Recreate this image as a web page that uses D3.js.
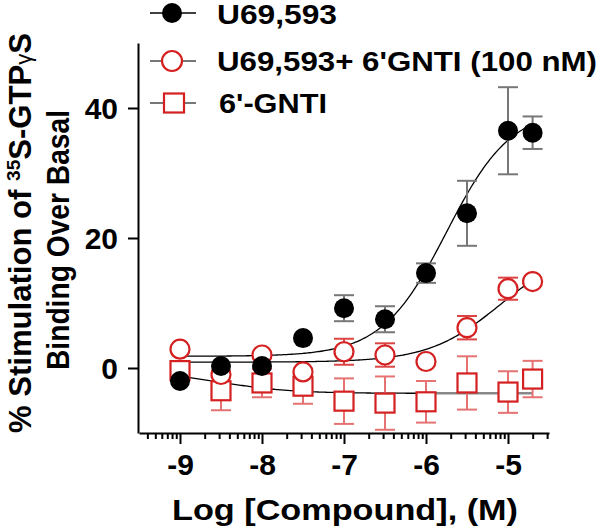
<!DOCTYPE html>
<html>
<head>
<meta charset="utf-8">
<script src="https://cdn.jsdelivr.net/npm/d3@7"></script>
<style>
  html, body { margin: 0; padding: 0; background: #fff; }
  svg { display: block; }
  text { font-family: "Liberation Sans", Arial, sans-serif; font-weight: bold; fill: #000; }
</style>
</head>
<body>
<svg id="chart" width="600" height="530"></svg>
<script>
// ---- data ----
const logConc = [-9, -8.5, -8, -7.5, -7, -6.5, -6, -5.5, -5, -4.7];
const u69Mean = [-2.0, 0.3, 0.3, 4.6, 9.2, 7.5, 14.6, 23.8, 36.5, 36.2];
const u69Err  = [0, 0, 0, 0, 2.0, 2.0, 1.5, 5.0, 6.7, 2.5];
const comboMean = [2.9, -1.0, 2.0, -0.6, 2.5, 2.0, 1.0, 6.2, 12.2, 13.3];
const comboErr  = [0, 0, 0, 0, 2.0, 1.8, 0, 1.8, 1.7, 0];
const gntiMean = [-0.4, -3.5, -2.3, -2.8, -5.1, -5.4, -5.2, -2.3, -3.7, -1.7];
const gntiErr  = [0, 3.0, 2.2, 2.7, 3.5, 4.1, 3.2, 4.1, 3.2, 2.8];
// sigmoidal fit parameters [bottom, top, logEC50, hill]
const u69Fit   = [1.8, 40, -5.75, 1.1];
const comboFit = [0.9, 18.5, -5.1, 1.0];
const gntiFit  = [-0.5, -3.9, -8.5, 1.0];
const xTicks = [-9, -8, -7, -6, -5];
const yTicks = [0, 20, 40];
const legendLabels = ["U69,593", "U69,593+ 6'GNTI (100 nM)", "6'-GNTI"];

// ---- layout ----
const svg = d3.select("#chart");
const x = d3.scaleLinear().domain([-9.5, -4.5]).range([139, 549]);
const y = d3.scaleLinear().domain([-10, 50]).range([433, 43]);
const RED = "#d42020";

function sig(p, v) { return p[0] + (p[1] - p[0]) / (1 + Math.pow(10, (p[2] - v) * p[3])); }
function curve(p, x0, x1) {
  const pts = d3.range(x0, x1 + 1e-9, 0.02).map(v => [v, sig(p, v)]);
  return d3.line().x(d => x(d[0])).y(d => y(d[1]))(pts);
}

// ---- axes ----
const minor = [];
for (let dec = -10; dec <= -5; dec++) {
  for (let k = 2; k <= 9; k++) {
    const v = dec + Math.log10(k);
    if (v >= -9.5 && v <= -4.5) minor.push(v);
  }
}
const gx = svg.append("g").attr("transform", "translate(0,433)");
gx.append("g").call(d3.axisBottom(x).tickValues(minor).tickSize(6).tickSizeOuter(0).tickFormat(""))
  .call(g => g.select(".domain").remove());
gx.append("g").call(d3.axisBottom(x).tickValues(xTicks).tickSize(11).tickSizeOuter(0)
  .tickFormat(d => d3.format("d")(d).replace("−", "-")));
gx.selectAll("line").attr("stroke", "#000").attr("stroke-width", 2);
gx.selectAll(".domain").attr("stroke", "#000").attr("stroke-width", 2);
gx.selectAll("text").attr("font-size", 30).attr("y", 42).attr("dy", 0)
  .style("font-family", '"Liberation Sans", Arial, sans-serif').style("font-weight", "bold");

const gy = svg.append("g").attr("transform", "translate(138,0)");
gy.call(d3.axisLeft(y).tickValues(yTicks).tickSize(10).tickPadding(10).tickSizeOuter(0));
gy.selectAll("line").attr("stroke", "#000").attr("stroke-width", 2);
gy.selectAll(".domain").attr("stroke", "#000").attr("stroke-width", 2);
gy.selectAll("text").attr("font-size", 30).attr("dy", "0.34em")
  .style("font-family", '"Liberation Sans", Arial, sans-serif').style("font-weight", "bold");

// ---- axis titles ----
svg.append("text").attr("x", 345).attr("y", 520).attr("text-anchor", "middle")
  .attr("font-size", 30).attr("textLength", 346).attr("lengthAdjust", "spacingAndGlyphs")
  .text("Log [Compound], (M)");

const t1 = svg.append("text").attr("transform", "translate(31,233) rotate(-90)")
  .attr("text-anchor", "middle").attr("font-size", 31)
  .attr("textLength", 400).attr("lengthAdjust", "spacingAndGlyphs");
t1.append("tspan").text("% Stimulation of ");
t1.append("tspan").attr("font-size", 19).attr("dy", -11).text("35");
t1.append("tspan").attr("dy", 11).text("S-GTP");
t1.append("tspan").attr("font-size", 22).style("font-weight", "normal").text("γ");
t1.append("tspan").text("S");

svg.append("text").attr("transform", "translate(69,240) rotate(-90)")
  .attr("text-anchor", "middle").attr("font-size", 31)
  .attr("textLength", 260).attr("lengthAdjust", "spacingAndGlyphs")
  .text("Binding Over Basal");

// ---- fit curves ----
svg.append("path").attr("d", curve(gntiFit, -6, -4.7)).attr("fill", "none")
  .attr("stroke", "#888").attr("stroke-width", 2.5);
svg.append("path").attr("d", curve(gntiFit, -9, -6)).attr("fill", "none")
  .attr("stroke", "#000").attr("stroke-width", 1.3);
svg.append("path").attr("d", curve(comboFit, -9, -4.7)).attr("fill", "none")
  .attr("stroke", "#000").attr("stroke-width", 1.3);
svg.append("path").attr("d", curve(u69Fit, -9, -4.7)).attr("fill", "none")
  .attr("stroke", "#000").attr("stroke-width", 1.3);

// ---- error bars ----
function errBars(means, errs, color) {
  const g = svg.append("g").attr("stroke", color).attr("stroke-width", 2).attr("fill", "none");
  logConc.forEach((c, i) => {
    if (!errs[i]) return;
    const cx = x(c), y0 = y(means[i] - errs[i]), y1 = y(means[i] + errs[i]);
    g.append("line").attr("x1", cx).attr("x2", cx).attr("y1", y0).attr("y2", y1);
    g.append("line").attr("x1", cx - 10).attr("x2", cx + 10).attr("y1", y0).attr("y2", y0);
    g.append("line").attr("x1", cx - 10).attr("x2", cx + 10).attr("y1", y1).attr("y2", y1);
  });
}
errBars(gntiMean, gntiErr, "#e57373");
errBars(comboMean, comboErr, "#dd4444");
errBars(u69Mean, u69Err, "#777");

// ---- markers ----
svg.append("g").selectAll("rect").data(logConc).join("rect")
  .attr("x", d => x(d) - 9.5).attr("y", (d, i) => y(gntiMean[i]) - 9.5)
  .attr("width", 19).attr("height", 19)
  .attr("fill", "#fff").attr("stroke", RED).attr("stroke-width", 2.2);
svg.append("g").selectAll("circle").data(logConc).join("circle")
  .attr("cx", d => x(d)).attr("cy", (d, i) => y(comboMean[i])).attr("r", 9.5)
  .attr("fill", "#fff").attr("stroke", RED).attr("stroke-width", 2.2);
svg.append("g").selectAll("circle").data(logConc).join("circle")
  .attr("cx", d => x(d)).attr("cy", (d, i) => y(u69Mean[i])).attr("r", 10)
  .attr("fill", "#000");

// ---- legend ----
const lg = svg.append("g");
const rowsY = [13, 61, 103];
const baseY = [24, 71, 113];
const textLen = [120, 380, 108];
const lineCol = ["#000", "#777", "#777"];
rowsY.forEach((ry, i) => {
  lg.append("line").attr("x1", 150).attr("x2", 196).attr("y1", ry).attr("y2", ry)
    .attr("stroke", lineCol[i]).attr("stroke-width", i === 0 ? 1.5 : 2);
  if (i === 0) lg.append("circle").attr("cx", 172).attr("cy", ry).attr("r", 10).attr("fill", "#000");
  if (i === 1) lg.append("circle").attr("cx", 172).attr("cy", ry).attr("r", 10)
    .attr("fill", "#fff").attr("stroke", RED).attr("stroke-width", 2.2);
  if (i === 2) lg.append("rect").attr("x", 164).attr("y", ry - 9.5).attr("width", 20).attr("height", 19)
    .attr("fill", "#fff").attr("stroke", RED).attr("stroke-width", 2.2);
  lg.append("text").attr("x", i === 2 ? 219 : 217).attr("y", baseY[i]).attr("font-size", 28)
    .attr("textLength", textLen[i]).attr("lengthAdjust", "spacingAndGlyphs")
    .text(legendLabels[i]);
});
</script>
</body>
</html>
